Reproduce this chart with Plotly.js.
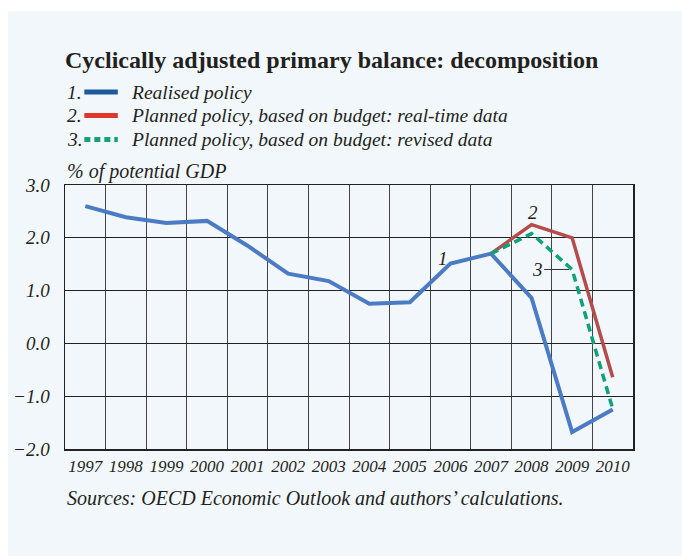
<!DOCTYPE html>
<html>
<head>
<meta charset="utf-8">
<script src="https://cdn.plot.ly/plotly-3.0.1.min.js"></script>
<style>
  html, body { margin: 0; padding: 0; background: #ffffff; width: 682px; height: 558px; overflow: hidden; }
  #panel { position: absolute; left: 8px; top: 11px; width: 674px; height: 545px; background: #f2f7fb; }
  #chart { position: absolute; left: 0; top: 0; width: 682px; height: 558px; }
</style>
</head>
<body>
<div id="panel"></div>
<div id="chart"></div>
<script>
// ---- Data ----
const years = [1997, 1998, 1999, 2000, 2001, 2002, 2003, 2004, 2005, 2006, 2007, 2008, 2009, 2010];
const realised = [2.60, 2.39, 2.28, 2.32, 1.85, 1.32, 1.18, 0.75, 0.78, 1.51, 1.70, 0.86, -1.68, -1.25];
const plannedYears = [2007, 2008, 2009, 2010];
const plannedRealTime = [1.70, 2.25, 2.00, -0.64];
const plannedRevised = [1.70, 2.08, 1.40, -1.24];
const yTicks = [-2, -1, 0, 1, 2, 3];
const seriesNames = ['Realised policy', 'Planned policy, based on budget: real-time data', 'Planned policy, based on budget: revised data'];

const serif = 'Liberation Serif, Times New Roman, serif';
const txt = '#231f20';

const traces = [
  { x: years, y: realised, type: 'scatter', mode: 'lines', name: seriesNames[0],
    line: { color: '#4a7bc4', width: 4 }, hoverinfo: 'skip' },
  { x: plannedYears, y: plannedRealTime, type: 'scatter', mode: 'lines', name: seriesNames[1],
    line: { color: '#b44c4c', width: 3.5 }, hoverinfo: 'skip' },
  { x: plannedYears, y: plannedRevised, type: 'scatter', mode: 'lines', name: seriesNames[2],
    line: { color: '#10a07a', width: 3.5, dash: '8px,5px' }, hoverinfo: 'skip' }
];

// legend geometry (paper coords)
const rowsY = [1.352, 1.263, 1.172];
const legendColors = ['#1d5a9c', '#e0362c', '#12a27c'];
const legendDash = ['solid', 'solid', '6px,4px'];
const shapes = [];
const annotations = [];
for (let i = 0; i < 3; i++) {
  shapes.push({ type: 'line', xref: 'paper', yref: 'paper', x0: 0.034, x1: 0.093, y0: rowsY[i], y1: rowsY[i],
    line: { color: legendColors[i], width: 5, dash: legendDash[i] } });
  annotations.push({ xref: 'paper', yref: 'paper', x: 0, y: rowsY[i], xanchor: 'left', yanchor: 'middle',
    text: (i + 1) + '.', showarrow: false, font: { family: serif, size: 19.5, color: txt, style: 'italic' } });
  annotations.push({ xref: 'paper', yref: 'paper', x: 0.112, y: rowsY[i], xanchor: 'left', yanchor: 'middle',
    text: seriesNames[i], showarrow: false, font: { family: serif, size: 19.5, color: txt, style: 'italic' } });
}
annotations.push({ xref: 'paper', yref: 'paper', x: 0, y: 1.053, xanchor: 'left', yanchor: 'middle',
  text: '% of potential GDP', showarrow: false, font: { family: serif, size: 20, color: txt, style: 'italic' } });
annotations.push({ xref: 'paper', yref: 'paper', x: 0, y: -0.186, xanchor: 'left', yanchor: 'middle',
  text: 'Sources: OECD Economic Outlook and authors\u2019 calculations.', showarrow: false,
  font: { family: serif, size: 20, color: txt, style: 'italic' } });
// series labels
annotations.push({ x: 2005.82, y: 1.61, xref: 'x', yref: 'y', text: '1', showarrow: false,
  font: { family: serif, size: 19, color: txt, style: 'italic' } });
annotations.push({ x: 2008.03, y: 2.47, xref: 'x', yref: 'y', text: '2', showarrow: false,
  font: { family: serif, size: 19, color: txt, style: 'italic' } });
annotations.push({ x: 2009, y: 1.40, xref: 'x', yref: 'y', text: '3', showarrow: true, arrowhead: 0,
  arrowwidth: 1, arrowcolor: '#333', ax: -35, ay: 0, standoff: 3,
  font: { family: serif, size: 19, color: txt, style: 'italic' } });

const layout = {
  width: 682, height: 558,
  margin: { l: 65, r: 49, t: 185, b: 109 },
  paper_bgcolor: 'rgba(0,0,0,0)',
  plot_bgcolor: 'rgba(0,0,0,0)',
  showlegend: false,
  title: { text: 'Cyclically adjusted primary balance: decomposition', xref: 'paper', x: 0, xanchor: 'left',
    yref: 'container', y: 0.8925, yanchor: 'middle',
    font: { family: serif, size: 24, color: txt, weight: 'bold' } },
  xaxis: {
    range: [1996.5, 2010.5], tickvals: years, ticktext: years.map(String),
    showgrid: false, zeroline: false, ticks: '',
    showline: true, mirror: true, linecolor: '#222', linewidth: 1.5,
    tickfont: { family: serif, size: 17, color: txt, style: 'italic' },
    ticklabelstandoff: 1,
    minor: { tick0: 1996.5, dtick: 1, showgrid: true, gridcolor: '#444', gridwidth: 1, ticks: '' }
  },
  yaxis: {
    range: [-2, 3], tickvals: yTicks, tickformat: '.1f',
    showgrid: true, gridcolor: '#222', gridwidth: 1, zeroline: false, ticks: '',
    showline: true, mirror: true, linecolor: '#222', linewidth: 1.5,
    tickfont: { family: serif, size: 19, color: txt, style: 'italic' },
    ticklabelstandoff: 10
  },
  shapes: shapes,
  annotations: annotations
};

Plotly.newPlot('chart', traces, layout, { staticPlot: true, displayModeBar: false });
</script>
</body>
</html>
